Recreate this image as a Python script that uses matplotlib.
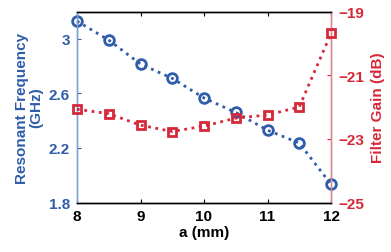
import matplotlib.pyplot as plt

# data
a_mm = [8, 8.5, 9, 9.5, 10, 10.5, 11, 11.5, 12]
freq = [3.13, 2.99, 2.815, 2.71, 2.566, 2.46, 2.33, 2.236, 1.933]
gain = [-22.07, -22.21, -22.57, -22.77, -22.6, -22.35, -22.25, -22.0, -19.69]

blue = '#2F5DAA'
red = '#D62839'

plt.rcParams['font.family'] = ['Liberation Sans', 'DejaVu Sans']
plt.rcParams['font.weight'] = 'bold'
plt.rcParams['font.size'] = 11

fig = plt.figure(figsize=(3.91, 2.53), dpi=100)
ax = fig.add_axes([77/391, 1 - 203.5/253, 254/391, 191/253])
ax2 = ax.twinx()

ax.plot(a_mm, freq, ':', color=blue, lw=2, marker='o', ms=7,
        mfc='none', mec=blue, mew=2, clip_on=False, zorder=5)
ax2.plot(a_mm, gain, ':', color=red, lw=2, marker='s', ms=6,
         mfc='none', mec=red, mew=2, clip_on=False, zorder=5)

ax.set_xlim(8, 12)
ax.set_ylim(1.8, 3.2)
ax.set_xticks([8, 9, 10, 11, 12])
ax.set_yticks([1.8, 2.2, 2.6, 3.0])
ax.set_yticklabels(['1.8', '2.2', '2.6', '3'])
ax2.set_ylim(-25, -19)
ax2.set_yticks([-25, -23, -21, -19])

ax.set_xlabel('a (mm)', fontweight='bold', labelpad=1)
ax.set_ylabel('Resonant Frequency\n(GHz)', color=blue, fontweight='bold',
              linespacing=1.0, labelpad=4)
ax2.set_ylabel('Filter Gain (dB)', color=red, fontweight='bold', labelpad=5)

ax.tick_params(axis='x', direction='in', length=3, top=True, pad=5)
ax.tick_params(axis='y', direction='in', length=3, colors=blue, pad=5)
ax2.tick_params(axis='y', direction='in', length=3, colors=red, pad=5)

ax.spines['left'].set_color('#7EA1D6')
ax2.spines['left'].set_color('#7EA1D6')
ax.spines['right'].set_color('#D98A96')
ax2.spines['right'].set_color('#D98A96')
for s in ax.spines.values():
    s.set_linewidth(1)
for s in ax2.spines.values():
    s.set_linewidth(1)

fig.savefig('out.png', dpi=100)
